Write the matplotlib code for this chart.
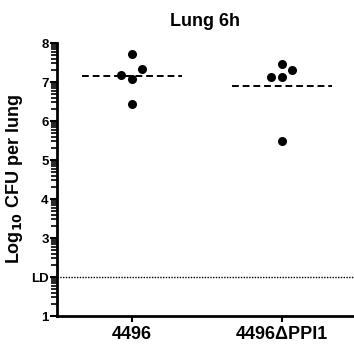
import numpy as np
import matplotlib.pyplot as plt
from matplotlib.ticker import FixedLocator

plt.rcParams["font.family"] = ["Liberation Sans", "DejaVu Sans"]
plt.rcParams["font.weight"] = "bold"

groups = ["4496", "4496\u0394PPI1"]
g1_vals = [7.73, 7.18, 7.08, 7.33, 6.43]
g1_offs = [0.0, -0.07, 0.0, 0.07, 0.0]
g2_vals = [7.47, 7.12, 7.12, 7.32, 5.50]
g2_offs = [0.0, -0.07, 0.0, 0.07, 0.0]
detect_limit = 2
y_ticks = [1, 2, 3, 4, 5, 6, 7, 8]
y_ticklabels = ["1", "LD", "3", "4", "5", "6", "7", "8"]

fig = plt.figure(figsize=(3.54, 3.46), dpi=100)
ax = fig.add_axes([0.161, 0.0867, 0.839, 0.789])

for i, (vals, offs) in enumerate([(g1_vals, g1_offs), (g2_vals, g2_offs)]):
    x = i + 1
    ax.scatter(np.array(offs) + x, vals, s=30, color="black", zorder=3)
    ax.plot([x - 0.335, x + 0.335], [np.mean(vals)] * 2, color="black",
            lw=1.4, ls=(0, (3.5, 2)), zorder=2)

ax.axhline(detect_limit, color="black", lw=1.0, ls=(0, (1, 1)))

ax.set_xlim(0.5, 2.48)
ax.set_ylim(1, 8)
ax.set_xticks([1, 2])
ax.set_xticklabels(groups, fontsize=13, fontweight="bold")
ax.set_yticks(y_ticks)
ax.set_yticklabels(y_ticklabels, fontsize=9.5, fontweight="bold")
minor = [d + np.log10(k) for d in range(1, 8) for k in range(2, 10)]
ax.yaxis.set_minor_locator(FixedLocator(minor))
ax.tick_params(axis="y", which="major", length=5, width=1.5, pad=1)
ax.tick_params(axis="y", which="minor", length=4, width=1.2, color="black")
ax.tick_params(axis="x", which="major", length=4, width=1.5, pad=3)

for side in ["top", "right"]:
    ax.spines[side].set_visible(False)
for side in ["left", "bottom"]:
    ax.spines[side].set_linewidth(2)

ax.set_ylabel("Log$_{\\mathbf{10}}$ CFU per lung", fontsize=13, fontweight="bold", labelpad=4)
ax.set_title("Lung 6h", fontsize=13, fontweight="bold", pad=12)

fig.savefig("out.png", dpi=100)
